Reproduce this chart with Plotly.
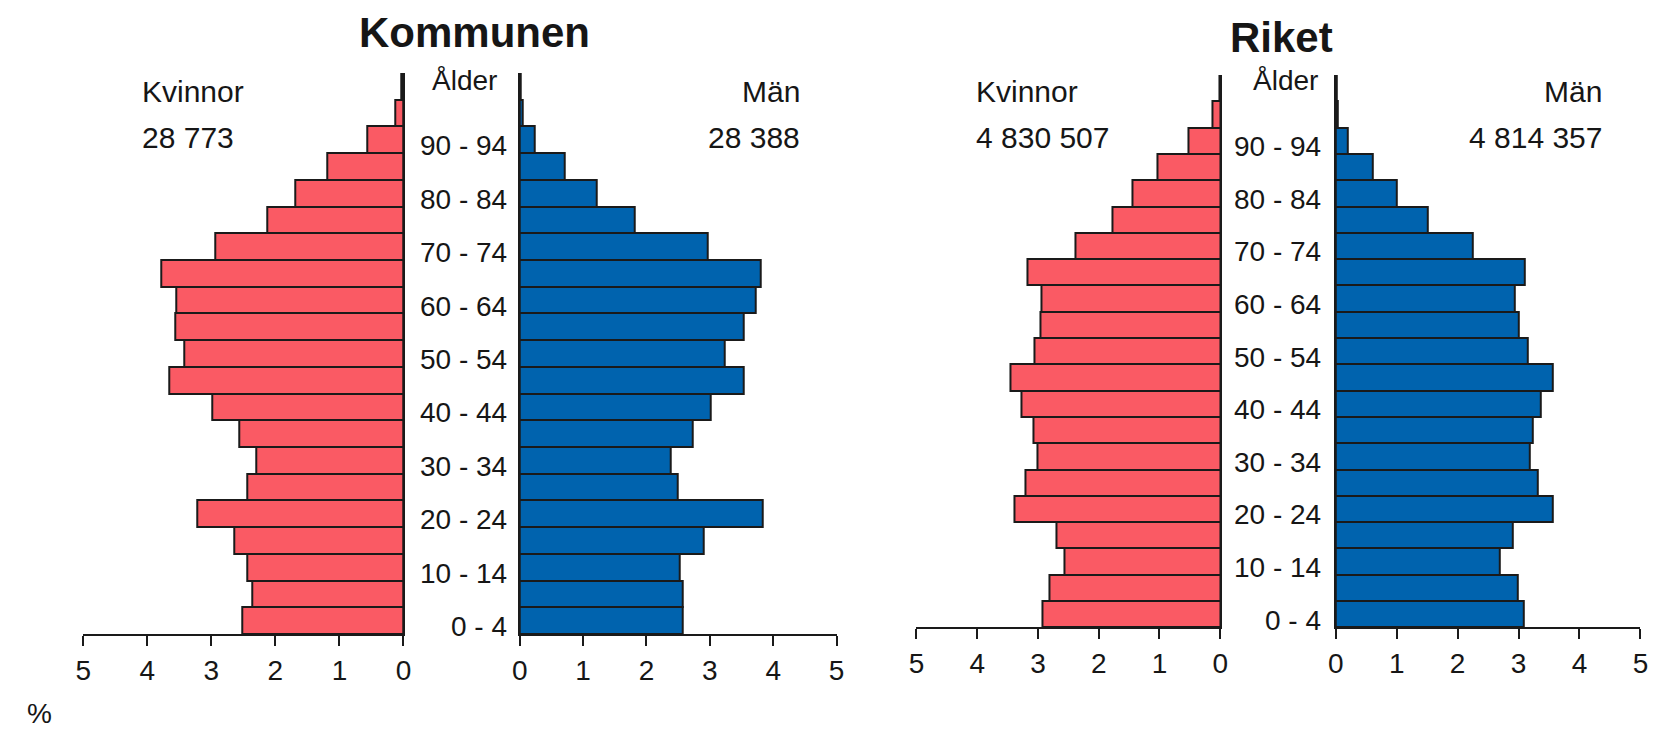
import plotly.graph_objects as go

# ---------------- data ----------------
ages = ["0-4", "5-9", "10-14", "15-19", "20-24", "25-29", "30-34", "35-39",
        "40-44", "45-49", "50-54", "55-59", "60-64", "65-69", "70-74",
        "75-79", "80-84", "85-89", "90-94", "95-99", "100+"]

kommun_kvinnor = [2.51, 2.36, 2.44, 2.64, 3.22, 2.44, 2.30, 2.56, 2.99, 3.65,
                  3.42, 3.57, 3.54, 3.78, 2.94, 2.12, 1.69, 1.19, 0.56, 0.13, 0.03]
kommun_man = [2.57, 2.57, 2.53, 2.90, 3.83, 2.50, 2.39, 2.73, 3.01, 3.53,
              3.24, 3.53, 3.72, 3.80, 2.97, 1.82, 1.22, 0.71, 0.23, 0.05, 0.01]
riket_kvinnor = [2.93, 2.81, 2.57, 2.70, 3.38, 3.20, 3.01, 3.08, 3.27, 3.45,
                 3.05, 2.96, 2.95, 3.17, 2.39, 1.78, 1.44, 1.03, 0.53, 0.12, 0.01]
riket_man = [3.08, 2.98, 2.69, 2.90, 3.56, 3.32, 3.19, 3.23, 3.36, 3.56,
             3.15, 3.00, 2.94, 3.11, 2.25, 1.51, 1.00, 0.60, 0.19, 0.03, 0.01]

age_tick_labels = ["0 - 4", "10 - 14", "20 - 24", "30 - 34", "40 - 44",
                   "50 - 54", "60 - 64", "70 - 74", "80 - 84", "90 - 94"]
age_tick_cats = ["0-4", "10-14", "20-24", "30-34", "40-44",
                 "50-54", "60-64", "70-74", "80-84", "90-94"]

x_ticks = [0, 1, 2, 3, 4, 5]

titles = ["Kommunen", "Riket"]
kommun_totals = ["28 773", "28 388"]
riket_totals = ["4 830 507", "4 814 357"]

# ---------------- styling ----------------
W, H = 1661, 733
RED = "#FA5A64"
BLUE = "#0063AE"
FONT = "Liberation Sans, Arial, sans-serif"
FS = 28
FS_LAB = 30
TXT = "#161616"


def px(p):
    return p / W


def py(p):
    return 1 - p / H


fig = go.Figure()

panels = [
    (kommun_kvinnor, RED, "x", "y"),
    (kommun_man, BLUE, "x2", "y2"),
    (riket_kvinnor, RED, "x3", "y3"),
    (riket_man, BLUE, "x4", "y4"),
]
for vals, col, xa, ya in panels:
    fig.add_trace(go.Bar(
        x=vals, y=ages, orientation="h", xaxis=xa, yaxis=ya,
        marker=dict(color=col, line=dict(color="#1a1a1a", width=2)),
        width=1.0, showlegend=False, hoverinfo="x+y",
    ))

x_domains = {
    "xaxis": [px(76.0), px(399.3)],
    "xaxis2": [px(516.7), px(836.7)],
    "xaxis3": [px(917.3), px(1224.0)],
    "xaxis4": [px(1340.7), px(1648.3)],
}
y_dom_k = [py(634.0), py(73.0)]
y_dom_r = [py(627.3), py(75.0)]

common_x = dict(
    showgrid=False, zeroline=False, showline=True, linecolor="#1a1a1a",
    linewidth=2, ticks="outside", ticklen=10, tickwidth=2,
    tickcolor="#1a1a1a", tickvals=x_ticks, ticktext=[str(t) for t in x_ticks],
    tickfont=dict(family=FONT, size=FS, color=TXT), fixedrange=True,
)
common_y = dict(
    type="category", categoryorder="array", categoryarray=ages,
    range=[-0.5, len(ages) - 0.5], showgrid=False, zeroline=False,
    showline=True, linecolor="#1a1a1a", linewidth=2, ticks="",
    showticklabels=False, fixedrange=True,
)

layout = dict(
    width=W, height=H, autosize=False,
    margin=dict(l=0, r=0, t=0, b=0),
    paper_bgcolor="white", plot_bgcolor="white",
    bargap=0, font=dict(family=FONT, size=FS, color=TXT),
)
layout["xaxis"] = dict(common_x, domain=x_domains["xaxis"], range=[5, 0], anchor="y")
layout["xaxis2"] = dict(common_x, domain=x_domains["xaxis2"], range=[0, 5], anchor="y2")
layout["xaxis3"] = dict(common_x, domain=x_domains["xaxis3"], range=[5, 0], anchor="y3")
layout["xaxis4"] = dict(common_x, domain=x_domains["xaxis4"], range=[0, 5], anchor="y4")
layout["yaxis"] = dict(common_y, domain=y_dom_k, anchor="x", side="right")
layout["yaxis2"] = dict(common_y, domain=y_dom_k, anchor="x2", side="left")
layout["yaxis3"] = dict(common_y, domain=y_dom_r, anchor="x3", side="right")
layout["yaxis4"] = dict(common_y, domain=y_dom_r, anchor="x4", side="left")
fig.update_layout(**layout)

ann = []


def txt(x, y, text, anchor="center", size=FS_LAB, bold=False, yanchor="middle"):
    ann.append(dict(
        x=px(x), y=py(y), xref="paper", yref="paper",
        text=f"<b>{text}</b>" if bold else text,
        showarrow=False, xanchor=anchor, yanchor=yanchor,
        font=dict(family=FONT, size=size, color=TXT),
    ))


# titles
txt(471, 33, titles[0], size=42, bold=True)
txt(1286, 37, titles[1], size=42, bold=True)

# Ålder headers
txt(461, 80, "Ålder", size=FS)
txt(1290, 80, "Ålder", size=FS)

# Kvinnor / Män labels and totals
txt(133, 91, "Kvinnor", anchor="left")
txt(133, 138, kommun_totals[0], anchor="left")
txt(802, 91, "Män", anchor="right")
txt(802, 138, kommun_totals[1], anchor="right")
txt(975, 91, "Kvinnor", anchor="left")
txt(975, 138, riket_totals[0], anchor="left")
txt(1612, 91, "Män", anchor="right")
txt(1612, 138, riket_totals[1], anchor="right")

# % label
txt(17, 713, "%", anchor="left", size=FS)

fig.update_layout(annotations=ann)

# age labels, placed on the category axis of the right-hand panels
for lab, cat in zip(age_tick_labels, age_tick_cats):
    fig.add_annotation(x=px(506), xref="paper", y=cat, yref="y2", text=lab,
                       showarrow=False, xanchor="right", yanchor="middle", yshift=-6,
                       font=dict(family=FONT, size=FS, color=TXT))
    fig.add_annotation(x=px(1328), xref="paper", y=cat, yref="y4", text=lab,
                       showarrow=False, xanchor="right", yanchor="middle", yshift=-6,
                       font=dict(family=FONT, size=FS, color=TXT))

fig.write_html(
    "out.html",
    config={"displayModeBar": False, "staticPlot": False},
    post_script=(
        "document.documentElement.style.margin='0';"
        "document.documentElement.style.overflow='hidden';"
        "document.body.style.margin='0';"
        "document.body.style.overflow='hidden';"
    ),
)
